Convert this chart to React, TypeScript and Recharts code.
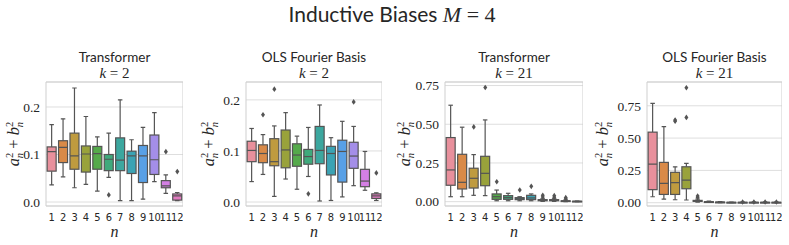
import { Bar, CartesianGrid, ComposedChart, Line, ReferenceArea, XAxis, YAxis } from "recharts";

type Five = [number, number, number, number, number]; // lo, q1, median, q3, hi

const categories = ["1", "2", "3", "4", "5", "6", "7", "8", "9", "10", "11", "12"];

const transformerK2: Five[] = [
  [0.036, 0.065, 0.106, 0.116, 0.163],
  [0.053, 0.083, 0.115, 0.129, 0.175],
  [0.03, 0.069, 0.097, 0.145, 0.24],
  [0.037, 0.063, 0.101, 0.118, 0.18],
  [0.023, 0.069, 0.102, 0.117, 0.137],
  [0.052, 0.066, 0.09, 0.1, 0.145],
  [0.003, 0.066, 0.088, 0.135, 0.215],
  [0.003, 0.06, 0.097, 0.107, 0.131],
  [0.006, 0.041, 0.097, 0.119, 0.157],
  [0.043, 0.058, 0.089, 0.141, 0.188],
  [0.018, 0.03, 0.034, 0.045, 0.057],
  [0.003, 0.004, 0.013, 0.017, 0.02],
];
const transformerK2Outliers: number[][] = [[], [], [], [], [], [0.015], [], [], [], [], [0.106], [0.064]];

const olsK2: Five[] = [
  [0.04, 0.079, 0.101, 0.119, 0.144],
  [0.054, 0.077, 0.095, 0.112, 0.132],
  [0.011, 0.071, 0.079, 0.124, 0.149],
  [0.045, 0.067, 0.102, 0.141, 0.175],
  [0.025, 0.07, 0.092, 0.114, 0.129],
  [0.05, 0.074, 0.089, 0.103, 0.146],
  [0.002, 0.075, 0.101, 0.148, 0.19],
  [0.003, 0.053, 0.095, 0.109, 0.126],
  [0.01, 0.039, 0.099, 0.121, 0.158],
  [0.032, 0.066, 0.09, 0.117, 0.148],
  [0.023, 0.03, 0.041, 0.064, 0.099],
  [0.003, 0.007, 0.012, 0.016, 0.018],
];
const olsK2Outliers: number[][] = [[], [0.171], [0.221], [], [], [0.016], [], [], [], [0.196], [], [0.057]];

const transformerK21: Five[] = [
  [0.032, 0.106, 0.205, 0.414, 0.623],
  [0.032, 0.082, 0.125, 0.306, 0.481],
  [0.041, 0.088, 0.151, 0.216, 0.304],
  [0.039, 0.103, 0.183, 0.293, 0.528],
  [0.006, 0.015, 0.032, 0.05, 0.075],
  [0.006, 0.015, 0.026, 0.039, 0.054],
  [0.006, 0.013, 0.019, 0.026, 0.032],
  [0.006, 0.013, 0.024, 0.041, 0.05],
  [0.002, 0.006, 0.009, 0.013, 0.019],
  [0.002, 0.006, 0.009, 0.013, 0.019],
  [0.0, 0.002, 0.004, 0.006, 0.011],
  [0.0, 0.001, 0.002, 0.003, 0.004],
];
const transformerK21Outliers: number[][] = [
  [], [], [0.483], [0.737], [0.129], [], [0.075], [0.099], [0.041, 0.03], [0.039, 0.028], [0.026, 0.018], [],
];

const olsK21: Five[] = [
  [0.046, 0.101, 0.299, 0.546, 0.768],
  [0.028, 0.064, 0.149, 0.312, 0.588],
  [0.023, 0.064, 0.155, 0.235, 0.278],
  [0.021, 0.108, 0.175, 0.278, 0.304],
  [0.005, 0.01, 0.013, 0.018, 0.028],
  [0.002, 0.004, 0.006, 0.008, 0.012],
  [0.001, 0.003, 0.004, 0.005, 0.008],
  [0.0, 0.001, 0.002, 0.003, 0.004],
  [0.0, 0.001, 0.002, 0.003, 0.004],
  [0.0, 0.001, 0.002, 0.003, 0.004],
  [0.0, 0.001, 0.002, 0.003, 0.004],
  [0.0, 0.001, 0.002, 0.003, 0.004],
];
const olsK21Outliers: number[][] = [
  [], [], [0.639, 0.63], [0.66, 0.889], [0.052, 0.04], [], [], [], [0.006], [0.006], [0.006], [0.006],
];

const palette = [
  "#e8909c", "#d98a48", "#bf9b3f", "#99a23b", "#55aa4b", "#3fa97c",
  "#3ca79f", "#3ba3b4", "#58a0e6", "#a48ee8", "#d47fe4", "#e27ac0",
];

const edge = "#545454";
const sans = "Lato, 'Liberation Sans', sans-serif";
const narrow = "'Liberation Sans Narrow', 'DejaVu Sans Condensed', sans-serif";
const serif = "'Liberation Serif', serif";

const PLOT_TOP = 82;
const PLOT_BOTTOM = 206;
const HEIGHT = 245;
const YAXIS_W = 40;

type Row = { n: string; lo: number; q1: number; med: number; q3: number; hi: number; o1?: number; o2?: number };

function buildRows(stats: Five[], outliers: number[][]): Row[] {
  return categories.map((n, i) => {
    const [lo, q1, med, q3, hi] = stats[i];
    return { n, lo, q1, med, q3, hi, o1: outliers[i][0], o2: outliers[i][1] };
  });
}

function BoxShape(props: any) {
  const { x, y, width, height, payload } = props;
  const { lo, q1, med, q3, hi, n } = payload as Row;
  const toY = (v: number) => y + ((hi - v) / (hi - lo)) * height;
  const cx = x + width / 2;
  const cap = width / 4;
  const color = palette[categories.indexOf(n)];
  return (
    <g>
      <line x1={cx} x2={cx} y1={toY(hi)} y2={toY(q3)} stroke={edge} strokeWidth={1.2} />
      <line x1={cx} x2={cx} y1={toY(q1)} y2={toY(lo)} stroke={edge} strokeWidth={1.2} />
      <line x1={cx - cap} x2={cx + cap} y1={toY(hi)} y2={toY(hi)} stroke={edge} strokeWidth={1.2} />
      <line x1={cx - cap} x2={cx + cap} y1={toY(lo)} y2={toY(lo)} stroke={edge} strokeWidth={1.2} />
      <rect x={x} y={toY(q3)} width={width} height={Math.max(toY(q1) - toY(q3), 0.8)} fill={color} stroke={edge} strokeWidth={1.2} />
      <line x1={x} x2={x + width} y1={toY(med)} y2={toY(med)} stroke={edge} strokeWidth={1.2} />
    </g>
  );
}

function Diamond(props: any) {
  const { cx, cy, value } = props;
  if (value == null || cx == null || cy == null) return <g />;
  return <path d={`M${cx},${cy - 2.8} L${cx + 2},${cy} L${cx},${cy + 2.8} L${cx - 2},${cy} Z`} fill={edge} />;
}

type Panel = {
  title: string;
  k: string;
  rows: Row[];
  domain: [number, number];
  ticks: number[];
  digits: number;
  plotLeft: number;
  plotWidth: number;
  yLabelX: number;
};

const panels: Panel[] = [
  { title: "Transformer", k: "2", rows: buildRows(transformerK2, transformerK2Outliers), domain: [-0.0084, 0.2526], ticks: [0, 0.1, 0.2], digits: 1, plotLeft: 46, plotWidth: 137, yLabelX: 14 },
  { title: "OLS Fourier Basis", k: "2", rows: buildRows(olsK2, olsK2Outliers), domain: [-0.0078, 0.235], ticks: [0, 0.1, 0.2], digits: 1, plotLeft: 246, plotWidth: 136, yLabelX: 209 },
  { title: "Transformer", k: "21", rows: buildRows(transformerK21, transformerK21Outliers), domain: [-0.028, 0.773], ticks: [0, 0.25, 0.5, 0.75], digits: 2, plotLeft: 445, plotWidth: 138, yLabelX: 405 },
  { title: "OLS Fourier Basis", k: "21", rows: buildRows(olsK21, olsK21Outliers), domain: [-0.0255, 0.934], ticks: [0, 0.25, 0.5, 0.75], digits: 2, plotLeft: 647, plotWidth: 135, yLabelX: 603 },
];

function BoxPanel({ p }: { p: Panel }) {
  return (
    <div style={{ position: "absolute", left: p.plotLeft - YAXIS_W, top: 0 }}>
      <ComposedChart
        width={YAXIS_W + p.plotWidth}
        height={HEIGHT}
        data={p.rows}
        margin={{ top: PLOT_TOP, right: 0, bottom: HEIGHT - PLOT_BOTTOM - 20, left: 0 }}
        barCategoryGap="10%"
      >
        <CartesianGrid vertical={false} stroke="#dedede" strokeWidth={1} />
        <ReferenceArea y1={p.domain[0]} y2={p.domain[1]} fill="none" stroke="#cfcfcf" strokeWidth={1} />
        <XAxis
          dataKey="n"
          interval={0}
          height={20}
          axisLine={false}
          tickLine={false}
          tickSize={0}
          tickMargin={7}
          tick={{ fill: "#262626", fontSize: 11, fontFamily: narrow }}
        />
        <YAxis
          type="number"
          width={YAXIS_W}
          domain={p.domain}
          ticks={p.ticks}
          allowDataOverflow
          axisLine={false}
          tickLine={false}
          tickSize={0}
          tickMargin={6}
          tickFormatter={(v: number) => v.toFixed(p.digits)}
          tick={{ fill: "#262626", fontSize: 13.5, fontFamily: serif }}
        />
        <Bar dataKey={(d: Row) => [d.lo, d.hi]} shape={BoxShape} isAnimationActive={false} />
        <Line dataKey="o1" stroke="none" dot={Diamond} activeDot={false} isAnimationActive={false} />
        <Line dataKey="o2" stroke="none" dot={Diamond} activeDot={false} isAnimationActive={false} />
      </ComposedChart>
    </div>
  );
}

function PanelTexts({ p }: { p: Panel }) {
  const cx = p.plotLeft + p.plotWidth / 2;
  const cy = (PLOT_TOP + PLOT_BOTTOM) / 2;
  return (
    <g fill="#262626">
      <text x={cx} y={62} textAnchor="middle" fontFamily={sans} fontSize={13.5}>
        {p.title}
      </text>
      <text x={cx} y={78} textAnchor="middle" fontFamily={serif} fontSize={15}>
        <tspan fontStyle="italic">k</tspan> = {p.k}
      </text>
      <text x={cx} y={237} textAnchor="middle" fontFamily={serif} fontSize={16} fontStyle="italic">
        n
      </text>
      <text transform={`translate(${p.yLabelX + 5},${cy}) rotate(-90)`} textAnchor="middle" fontFamily={serif} fontSize={16.5}>
        <tspan fontStyle="italic">a</tspan>
        <tspan fontSize={10.5} dy={-6}>2</tspan>
        <tspan fontSize={10.5} fontStyle="italic" dx={-5.5} dy={10}>n</tspan>
        <tspan dy={-4}> + </tspan>
        <tspan fontStyle="italic">b</tspan>
        <tspan fontSize={10.5} dy={-6}>2</tspan>
        <tspan fontSize={10.5} fontStyle="italic" dx={-5.5} dy={10}>n</tspan>
      </text>
    </g>
  );
}

export default function App() {
  return (
    <div style={{ position: "absolute", left: 0, top: 0, width: 789, height: HEIGHT, background: "#fff" }}>
      {panels.map((p, i) => (
        <BoxPanel key={i} p={p} />
      ))}
      <svg width={789} height={HEIGHT} style={{ position: "absolute", left: 0, top: 0, pointerEvents: "none" }}>
        <text x={392} y={22} textAnchor="middle" fill="#262626" fontSize={21}>
          <tspan fontFamily={sans}>Inductive Biases </tspan>
          <tspan fontFamily={serif} fontStyle="italic" fontSize={22}>M</tspan>
          <tspan fontFamily={serif} fontSize={22}> = 4</tspan>
        </text>
        {panels.map((p, i) => (
          <PanelTexts key={i} p={p} />
        ))}
      </svg>
    </div>
  );
}
